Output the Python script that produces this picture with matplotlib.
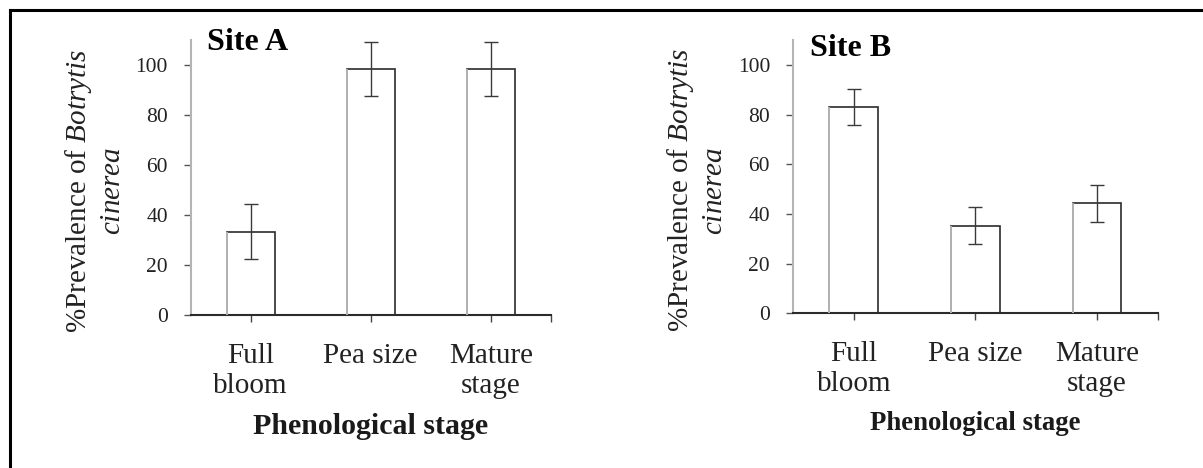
import numpy as np
import matplotlib
matplotlib.use('Agg')
import matplotlib.pyplot as plt
from matplotlib.lines import Line2D

plt.rcParams['font.family'] = ['Liberation Serif', 'DejaVu Serif']
plt.rcParams['mathtext.fontset'] = 'custom'
plt.rcParams['mathtext.it'] = 'Liberation Serif:italic'
plt.rcParams['mathtext.rm'] = 'Liberation Serif'

stages = ['Full\nbloom', 'Pea size', 'Mature\nstage']
site_a = [33.3, 98.4, 98.4]
site_a_err = [11.0, 10.7, 10.7]
site_b = [83.0, 35.3, 44.3]
site_b_err = [7.3, 7.4, 7.5]

W, H = 1203, 468
fig = plt.figure(figsize=(W / 100, H / 100), dpi=100)

dark = '#2b2b2b'
light = '#b4b4b4'


def panel(rect, vals, errs, title, title_xy, xlab_size, xlab_pad, ylab_x):
    ax = fig.add_axes(rect)
    x = np.arange(len(stages))
    bars = ax.bar(x, vals, width=0.4, color='white', edgecolor=dark,
                  linewidth=1.2, zorder=2)
    # left edge of each bar is drawn lighter, like the original
    for b in bars:
        ax.vlines(b.get_x(), 0, b.get_height(), color=light, lw=1.4, zorder=3)
    ax.errorbar(x, vals, yerr=errs, fmt='none', ecolor='#3a3a3a',
                elinewidth=1.0, capsize=4.8, capthick=1.0, zorder=4)
    ax.set_xlim(-0.5, 2.5)
    ax.set_ylim(0, 110)
    ax.set_yticks([0, 20, 40, 60, 80, 100])
    ax.set_xticks([0, 1, 2, 2.5])
    ax.set_xticklabels(stages + [''])
    ax.tick_params(axis='x', length=5, width=1.0, color='#444', pad=15,
                   labelsize=21, labelcolor='#222')
    ax.tick_params(axis='y', length=5, width=1.0, color='#555', pad=11.5,
                   labelsize=15.5, labelcolor='#222')
    for s in ['top', 'right']:
        ax.spines[s].set_visible(False)
    ax.spines['left'].set_color(light)
    ax.spines['left'].set_linewidth(1.5)
    ax.spines['bottom'].set_color(dark)
    ax.spines['bottom'].set_linewidth(1.5)
    ax.set_xlabel('Phenological stage', fontsize=xlab_size, fontweight='bold',
                  color='#1a1a1a', labelpad=xlab_pad)
    ax.set_ylabel('%Prevalence of $\\it{Botrytis}$\n$\\it{cinerea}$',
                  fontsize=21, color='#222', linespacing=1.3)
    ax.yaxis.set_label_coords(ylab_x, 0.45)
    fig.text(title_xy[0] / W, 1 - title_xy[1] / H, title, fontsize=23,
             fontweight='bold', va='baseline', ha='left')
    return ax


ax_a = panel([190.7 / W, 1 - 315 / H, 360 / W, 275 / H], site_a, site_a_err,
             'Site A', (207, 50), 21.5, 10, -0.179)
ax_b = panel([793 / W, 1 - 313.3 / H, 364.7 / W, 273.1 / H], site_b, site_b_err,
             'Site B', (810, 56), 19.3, 10, -0.178)

# page frame (top and left edges only)
fig.add_artist(Line2D([10 / W, 10 / W], [0, 1 - 10 / H], color='black', lw=2.2,
                      transform=fig.transFigure))
fig.add_artist(Line2D([10 / W, 1], [1 - 10 / H, 1 - 10 / H], color='black', lw=2.2,
                      transform=fig.transFigure))

fig.savefig('out.png', dpi=100)
